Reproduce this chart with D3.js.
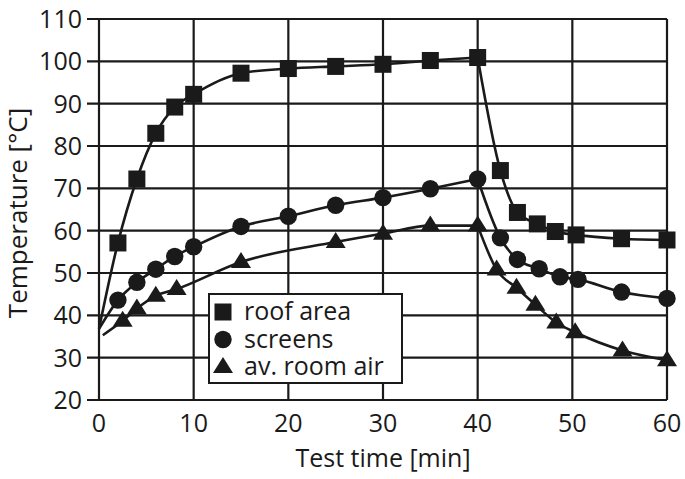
<!DOCTYPE html>
<html>
<head>
<meta charset="utf-8">
<script src="https://cdn.jsdelivr.net/npm/d3@7/dist/d3.min.js"></script>
<style>
  html, body { margin: 0; padding: 0; background: #fff; }
  text { font-family: "Open Sans", "Noto Sans", sans-serif; fill: #1a1a1a; }
</style>
</head>
<body>
<svg id="chart" width="685" height="479"></svg>
<script>
// ---- data ----
const xTicks = [0, 10, 20, 30, 40, 50, 60];
const yTicks = [20, 30, 40, 50, 60, 70, 80, 90, 100, 110];

const roofTime = [2, 4, 6, 8, 10, 15, 20, 25, 30, 35, 40, 42.4, 44.2, 46.3, 48.2, 50.4, 55.2, 60];
const roofTemp = [57.1, 72.2, 83, 89.2, 92.2, 97.2, 98.3, 98.8, 99.3, 100.2, 100.9, 74.2, 64.3, 61.6, 59.8, 59, 58.1, 57.8];

const screenTime = [2, 4, 6, 8, 10, 15, 20, 25, 30, 35, 40, 42.4, 44.2, 46.5, 48.7, 50.6, 55.2, 60];
const screenTemp = [43.6, 47.8, 50.9, 53.9, 56.2, 61, 63.4, 66, 67.8, 69.9, 72.2, 58.3, 53.2, 51, 49.1, 48.5, 45.5, 44];

const airTime = [2.5, 4, 6, 8.2, 15, 25, 30, 35, 40, 42, 44.1, 46.1, 48.3, 50.3, 55.3, 60];
const airTemp = [38.7, 41.6, 44.6, 46.2, 52.6, 57.3, 59.3, 61.2, 61.2, 50.8, 46.5, 42.5, 38.3, 36, 31.7, 29.4];

// start of the fitted curves (no marker there)
const curveStartTime = [0, 0, 0.4];
const curveStartTemp = [36.8, 36.8, 35.3];
const peakTime = 40;

const legendLabels = ["roof area", "screens", "av. room air"];

// ---- layout ----
const svg = d3.select("#chart");
const x = d3.scaleLinear().domain([0, 60]).range([99, 667]);
const y = d3.scaleLinear().domain([20, 110]).range([400, 19]);
const ink = "#1a1a1a";

// grid
const g = svg.append("g");
g.selectAll(".hg").data(yTicks).join("line")
  .attr("x1", 87).attr("x2", x(60))
  .attr("y1", d => y(d)).attr("y2", d => y(d))
  .attr("stroke", ink).attr("stroke-width", 2.2);
g.selectAll(".vg").data(xTicks).join("line")
  .attr("x1", d => x(d)).attr("x2", d => x(d))
  .attr("y1", y(110)).attr("y2", y(20))
  .attr("stroke", ink).attr("stroke-width", 2.2);

// tick labels
svg.append("g").selectAll("text").data(yTicks).join("text")
  .attr("x", 82).attr("y", d => y(d) + 9)
  .attr("text-anchor", "end").attr("font-size", 25).text(d => d);
svg.append("g").selectAll("text").data(xTicks).join("text")
  .attr("x", d => x(d)).attr("y", 432)
  .attr("text-anchor", "middle").attr("font-size", 25).text(d => d);

// axis titles
svg.append("text").attr("x", 383).attr("y", 467)
  .attr("text-anchor", "middle").attr("font-size", 25).text("Test time [min]");
svg.append("text").attr("transform", "translate(27,213) rotate(-90)")
  .attr("text-anchor", "middle").attr("font-size", 26).text("Temperature [°C]");

// curves
const series = [
  { t: roofTime, v: roofTemp, shape: "square" },
  { t: screenTime, v: screenTemp, shape: "circle" },
  { t: airTime, v: airTemp, shape: "triangle" }
];
const line = d3.line().x(d => x(d[0])).y(d => y(d[1])).curve(d3.curveMonotoneX);

series.forEach((s, i) => {
  const pts = s.t.map((t, j) => [t, s.v[j]]);
  const heat = [[curveStartTime[i], curveStartTemp[i]]].concat(pts.filter(p => p[0] <= peakTime));
  const cool = pts.filter(p => p[0] >= peakTime);
  [heat, cool].forEach(seg => {
    svg.append("path").attr("d", line(seg))
      .attr("fill", "none").attr("stroke", ink).attr("stroke-width", 2.6);
  });
});

// markers
function drawMarker(sel, shape, cx, cy) {
  if (shape === "square") {
    sel.append("rect").attr("x", cx - 8.5).attr("y", cy - 8.5)
      .attr("width", 17).attr("height", 17).attr("fill", ink);
  } else if (shape === "circle") {
    sel.append("circle").attr("cx", cx).attr("cy", cy).attr("r", 8.7).attr("fill", ink);
  } else {
    sel.append("path")
      .attr("d", `M${cx},${cy - 10} L${cx + 10},${cy + 6} L${cx - 10},${cy + 6} Z`)
      .attr("fill", ink);
  }
}
series.forEach(s => {
  const mg = svg.append("g");
  s.t.forEach((t, j) => drawMarker(mg, s.shape, x(t), y(s.v[j])));
});

// legend
const lg = svg.append("g");
lg.append("rect").attr("x", 209).attr("y", 294).attr("width", 193).attr("height", 89)
  .attr("fill", "#fff").attr("stroke", ink).attr("stroke-width", 2);
["square", "circle", "triangle"].forEach((shape, i) => {
  const cy = 312 + i * 27.5;
  drawMarker(lg, shape, 223, cy);
  lg.append("text").attr("x", 244).attr("y", cy + 8).attr("font-size", 25).text(legendLabels[i]);
});
</script>
</body>
</html>
